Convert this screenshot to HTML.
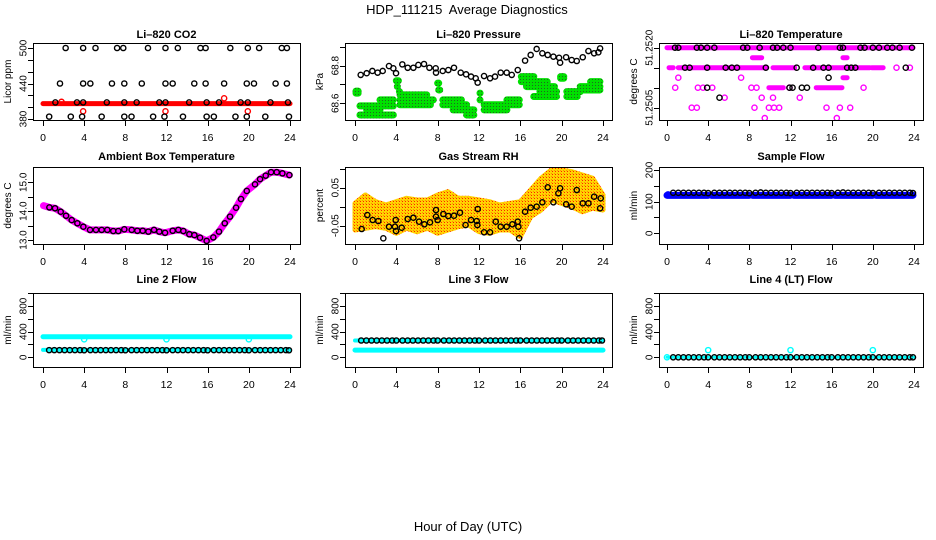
<!DOCTYPE html>
<html><head><meta charset="utf-8"><style>
html,body{margin:0;padding:0;background:#fff;}
svg{display:block;font-family:"Liberation Sans",sans-serif;}
</style></head><body>
<svg id="chart" width="936" height="540" viewBox="0 0 936 540" xmlns="http://www.w3.org/2000/svg">
<defs>
<pattern id="greenPat" width="3" height="3" patternUnits="userSpaceOnUse"><rect width="3" height="3" fill="#00e000"/><rect x="1" y="1" width="1" height="1" fill="#226622"/></pattern>
<pattern id="rhPat" width="3" height="3" patternUnits="userSpaceOnUse"><rect width="3" height="3" fill="#ffd400"/><rect width="1" height="1" fill="#ff2000"/><rect x="2" y="2" width="1" height="1" fill="#ff9000"/></pattern>
</defs>
<text x="467" y="14" text-anchor="middle" font-size="13" xml:space="preserve">HDP_111215  Average Diagnostics</text>
<text x="468" y="531" text-anchor="middle" font-size="13">Hour of Day (UTC)</text>
</svg>
<script>
// ---------- data ----------
const xTicks=[0,4,8,12,16,20,24];
// CO2
const co2Levels=[500,440,408,384];
const co2H500=[2.2,3.9,5.1,7.2,7.8,10.2,11.9,13.1,15.3,15.8,18.2,19.9,21.0,23.2,23.7];
const co2H440=[1.65,3.9,4.6,6.7,7.9,9.6,11.9,12.6,14.7,15.8,17.6,19.8,20.5,22.6,23.7];
const co2H408=[1.2,3.3,3.9,6.2,7.9,9.1,11.3,11.9,14.2,15.9,17.1,19.2,19.9,22.1,23.8];
const co2H384=[0.6,2.7,3.8,5.7,7.9,8.6,10.7,11.8,13.6,15.9,16.6,18.7,19.8,21.6,23.9];
const co2RedBand=[0,24,406];
const co2RedPtH=[3.9,11.9,19.9,17.6,1.8];
const co2RedPtV=[393,393,393,415,409];
const co2Ticks=[380,400,420,440,460,480,500];
const co2Labels=["380","440","500"];
// Pressure
const presH=[0.55,1.13,1.68,2.19,2.68,3.29,3.71,3.97,4.58,5.1,5.65,6.13,6.68,7.2,7.81,7.84,8.49,9.03,9.58,10.23,10.75,11.23,11.68,11.87,12.49,13.07,13.55,14.1,14.68,15.17,15.75,16.46,17.0,17.58,18.13,18.65,19.2,19.75,19.85,20.43,20.97,21.46,22.04,22.59,23.14,23.55,23.72];
const presV=[68.751,68.760,68.772,68.763,68.772,68.798,68.786,68.760,68.807,68.789,68.789,68.804,68.809,68.789,68.786,68.763,68.772,68.777,68.789,68.763,68.754,68.742,68.733,68.710,68.745,68.733,68.742,68.763,68.763,68.751,68.777,68.827,68.857,68.889,68.866,68.857,68.848,68.842,68.816,68.845,68.830,68.825,68.845,68.878,68.866,68.871,68.892];
const presGreen=[[0.1,0.3,68.654],[0.1,0.3,68.665],[0.48,3.71,68.538],[0.48,3.71,68.586],[2.42,3.71,68.618],[1.13,2.42,68.565],[4.0,4.2,68.72],[4.1,4.1,68.689],[4.36,6.94,68.645],[4.36,7.58,68.618],[4.36,7.3,68.592],[4.3,4.3,68.662],[8.0,8.1,68.707],[8.1,8.2,68.671],[8.5,10.3,68.618],[8.5,10.8,68.592],[9.5,11.5,68.565],[10.8,11.5,68.538],[12.1,12.1,68.654],[12.1,12.1,68.618],[12.5,15.9,68.592],[12.5,14.7,68.565],[14.7,15.9,68.618],[16.1,17.3,68.742],[16.1,18.6,68.715],[16.6,19.3,68.689],[17.9,19.5,68.662],[17.3,19.5,68.636],[19.9,20.2,68.742],[19.9,20.2,68.733],[20.5,21.8,68.662],[22,23.7,68.671],[21.8,23.7,68.689],[20.5,21.5,68.636],[22.8,23.7,68.715]];
const presTicks=[68.6,68.7,68.8,68.9];
const presLabels=["68.6","68.8"];
// Li-820 temperature
const tempMagSeg=[[0,23.9,51.2520],[0.2,0.6,51.2515],[1.1,9.7,51.2515],[10.3,12.4,51.2515],[13.4,17.9,51.2515],[18.3,19.7,51.2515],[19.9,21.0,51.2515],[8.3,9.2,51.25175],[17.1,17.5,51.25175],[17.1,17.5,51.25125],[9.9,11.3,51.2510],[14.5,17.0,51.2510]];
const tempMagH=[22.3,23.6,1.1,7.2,0.8,3.0,3.5,4.4,8.2,8.7,11.9,19.1,5.6,9.2,10.3,12.9,2.4,2.9,8.5,9.9,10.4,10.9,15.5,16.8,17.8,9.5,16.5];
const tempMagV=[51.2515,51.2515,51.25125,51.25125,51.2510,51.2510,51.2510,51.2510,51.2510,51.2510,51.2510,51.2510,51.25075,51.25075,51.25075,51.25075,51.2505,51.2505,51.2505,51.2505,51.2505,51.2505,51.2505,51.2505,51.2505,51.25024,51.25024];
const tempBlkH=[0.78,1.1,2.9,3.3,3.9,4.6,7.4,7.8,9.0,10.3,10.7,11.3,12.0,14.7,16.8,17.1,18.8,19.2,20.0,20.6,21.4,21.9,22.6,23.8,1.75,2.2,3.9,5.7,6.3,6.8,9.6,12.6,14.2,15.2,15.7,17.5,17.9,18.3,23.2,15.7,3.9,11.9,12.2,13.1,13.6,5.1];
const tempBlkV=[51.2520,51.2520,51.2520,51.2520,51.2520,51.2520,51.2520,51.2520,51.2520,51.2520,51.2520,51.2520,51.2520,51.2520,51.2520,51.2520,51.2520,51.2520,51.2520,51.2520,51.2520,51.2520,51.2520,51.2520,51.2515,51.2515,51.2515,51.2515,51.2515,51.2515,51.2515,51.2515,51.2515,51.2515,51.2515,51.2515,51.2515,51.2515,51.2515,51.25125,51.2510,51.2510,51.2510,51.2510,51.2510,51.25075];
const tempTicks=[51.2505,51.2510,51.2515,51.2520];
const tempLabels=["51.2505","51.2520"];
// Ambient box temperature
const ambH=[0.62,1.17,1.72,2.24,2.79,3.34,3.92,4.57,5.15,5.70,6.25,6.83,7.32,7.90,8.62,9.17,9.69,10.24,10.79,11.30,11.86,12.6,13.15,13.64,14.22,14.71,15.26,15.9,16.55,17.1,17.66,18.17,18.76,19.24,19.8,20.6,21.09,21.64,22.16,22.71,23.26,23.94];
const ambV=[14.13,14.10,13.98,13.84,13.69,13.58,13.46,13.35,13.35,13.35,13.35,13.31,13.31,13.37,13.35,13.32,13.32,13.29,13.35,13.29,13.25,13.32,13.35,13.31,13.20,13.17,13.08,12.97,13.09,13.29,13.58,13.81,14.12,14.42,14.70,14.93,15.11,15.23,15.35,15.35,15.31,15.25];
const ambMagStartH=[0.05];
const ambMagStartV=[14.19];
const ambTicks=[13,13.5,14,14.5,15];
const ambLabels=["13.0","14.0","15.0"];
// Gas stream RH
const rhH=[0.65,1.19,1.71,2.26,2.74,3.29,3.87,3.94,3.97,4.52,5.1,5.65,6.2,6.71,7.26,7.84,7.84,8.0,8.55,9.03,9.58,10.16,10.7,11.23,11.78,11.88,11.84,12.49,13.07,13.62,14.1,14.68,15.23,15.75,15.81,15.88,16.46,17.0,17.58,18.13,18.65,19.2,19.68,19.85,20.43,20.97,21.46,22.04,22.59,23.14,23.78,23.72];
const rhV=[-0.0587,-0.0219,-0.035,-0.0376,-0.0832,-0.0526,-0.0526,-0.035,-0.064,-0.0553,-0.0324,-0.029,-0.0395,-0.0463,-0.0411,-0.0087,-0.0263,-0.035,-0.0192,-0.0245,-0.0237,-0.0158,-0.0482,-0.035,-0.0376,-0.0061,-0.0482,-0.0674,-0.0674,-0.0395,-0.0526,-0.0526,-0.0463,-0.0395,-0.0526,-0.0832,-0.0132,-0.0026,0,0.0116,0.0511,0.0116,0.0353,0.0484,0.0063,0,0.0439,0.0089,0.0089,0.0263,0.0221,-0.0042];
const rhEnvH=[0,1,2,3,4,5,6,7,8,9,10,11,12,13,14,15,16,17,18,19,20,21,22,23,24];
const rhUpper=[0.0089,0.0308,0.0132,0.0045,0.0132,0.0221,0.0176,0.0176,0.0308,0.0395,0.0221,0.0221,0.0176,0.0132,0.0045,0.0089,0.0132,0.0439,0.0747,0.0966,0.0966,0.092,0.0834,0.0747,0.0308];
const rhLower=[-0.0613,-0.0568,-0.0526,-0.0568,-0.07,-0.0568,-0.0658,-0.0568,-0.07,-0.0613,-0.0526,-0.0482,-0.0658,-0.07,-0.0613,-0.0613,-0.079,-0.0263,-0.0087,0.0176,0.0089,0,-0.0132,-0.0042,-0.0087];
const rhTicks=[-0.05,0,0.05,0.10];
const rhLabels=["-0.05","0.05"];
// Flows
const flowHours=[0.6,1.1,1.6,2.1,2.6,3.1,3.6,4.0,4.6,5.1,5.6,6.1,6.6,7.1,7.6,8.0,8.6,9.1,9.6,10.1,10.6,11.1,11.6,12.0,12.6,13.1,13.6,14.1,14.6,15.1,15.6,16.0,16.6,17.1,17.6,18.1,18.6,19.1,19.6,20.0,20.6,21.1,21.6,22.1,22.6,23.1,23.6,23.9];
const sampleBlack=[128,128,128,128,128,128,128,127,128,128,128,128,128,128,128,127,128,129,128,128,128,128,128,127,128,128,128,128,128,128,128,127,128,129,128,128,128,128,128,127,128,128,128,128,128,128,128,127];
const sampleBlue=[[0,4,120],[4.3,8,120],[8.3,12,120],[12.3,16,120],[16.3,20,120],[20.3,23.9,120]];
const line2Black=[112,112,112,112,112,112,112,110,112,112,112,112,112,112,112,110,112,112,112,112,112,112,112,110,112,112,112,112,112,112,112,110,112,112,112,112,112,112,112,110,112,112,112,112,112,112,112,110];
const line2Cyan=[[0,24,320],[0,24,115]];
const line2CyanDipH=[4,12,20];
const line2CyanDipV=[280,280,280];
const line3Black=[262,262,262,262,262,262,262,262,262,262,262,262,262,262,262,262,262,262,262,262,262,262,262,262,262,262,262,262,262,262,262,262,262,262,262,262,262,262,262,262,262,262,262,262,262,262,262,262];
const line3Cyan=[[0,24,262],[0,24,112]];
const line4Black=[0,0,0,0,0,0,0,0,0,0,0,0,0,0,0,0,0,0,0,0,0,0,0,0,0,0,0,0,0,0,0,0,0,0,0,0,0,0,0,0,0,0,0,0,0,0,0,0];
const line4Cyan=[[0,24,0]];
const line4CyanPtH=[0,4,12,20];
const line4CyanPtV=[0,112,112,112];
const flowTicks=[0,200,400,600,800,1000];
const flowLabels=["0","400","800"];
const sampleTicks=[0,50,100,150,200];
const sampleLabels=["0","100","200"];

// ---------- drawing ----------
const NS="http://www.w3.org/2000/svg";
const svg=document.getElementById('chart');
function mk(tag,attrs,parent){const e=document.createElementNS(NS,tag);for(const k in attrs)e.setAttribute(k,attrs[k]);(parent||svg).appendChild(e);return e;}

function makePanel(name,title,ylab,col,row,ref,ticks,labels){
  const cols=[{L:33,R:300,x0:43,x1:290},{L:345,R:612,x0:355,x1:603},{L:659,R:923,x0:667,x1:914}];
  const rows=[{T:43,B:120,tY:38},{T:167,B:244,tY:160},{T:293,B:367,tY:283}];
  const c=cols[col],r=rows[row];
  const g=mk('g',{});
  
  
  const sx=h=>c.x0+(c.x1-c.x0)*h/24;
  const sy=v=>ref[1]+(v-ref[0])*(ref[3]-ref[1])/(ref[2]-ref[0]);
  const t=mk('text',{x:(c.L+c.R)/2,y:r.tY,'text-anchor':'middle','font-size':'11','font-weight':'bold'},g);
  t.textContent=title;
  
  
  const yl=mk('text',{transform:`translate(${c.L-22},${(r.T+r.B)/2}) rotate(-90)`,'text-anchor':'middle','font-size':'10'},g);
  yl.textContent=ylab;
  
  
  const xa=mk('g',{stroke:'#000','stroke-width':'1'},g);
  
  
  mk('line',{x1:sx(0),x2:sx(24),y1:r.B+0.5,y2:r.B+0.5},xa);
  xTicks.forEach(h=>{
    mk('line',{x1:Math.round(sx(h))+0.5,x2:Math.round(sx(h))+0.5,y1:r.B,y2:r.B+6},xa);
    const tl=mk('text',{x:sx(h),y:r.B+21,'text-anchor':'middle','font-size':'10.5',stroke:'none'},g);
    tl.textContent=String(h);
    
    
  });
  const ya=mk('g',{stroke:'#000','stroke-width':'1'},g);
  
  
  ticks.forEach(v=>{const y=Math.round(sy(v))+0.5;mk('line',{x1:c.L-5,x2:c.L,y1:y,y2:y},ya);});
  labels.forEach(s=>{
    const v=parseFloat(s);
    const tl=mk('text',{transform:`translate(${c.L-9},${sy(v)}) rotate(-90)`,'text-anchor':'middle','dominant-baseline':'central','font-size':'10',stroke:'none'},g);
    tl.textContent=s;
    
    
  });
  const cp='clip-'+name;
  const clip=mk('clipPath',{id:cp},g);mk('rect',{x:c.L,y:r.T,width:c.R-c.L,height:r.B-r.T},clip);
  const plot=mk('g',{'clip-path':`url(#${cp})`},g);
  
  
  const box=mk('rect',{x:c.L+0.5,y:r.T+0.5,width:c.R-c.L,height:r.B-r.T,fill:'none',stroke:'#000','stroke-width':'1'},g);
  
  
  return {sx,sy,plot,box,g};
}
function seg(P,h0,h1,v,color,w,nm){
  const l=mk('line',{x1:P.sx(h0),x2:P.sx(h1),y1:P.sy(v),y2:P.sy(v),stroke:color,'stroke-width':w,'stroke-linecap':'round'},P.plot);
  
  
}
function pt(P,h,v,color,nm,r,sw){
  const c=mk('circle',{cx:P.sx(h),cy:P.sy(v),r:r||2.6,fill:'none',stroke:color,'stroke-width':sw||1.4},P.plot);
  
  
}
function cross(P,h,v,color){
  const x=P.sx(h),y=P.sy(v);
  const p=mk('path',{d:`M${x-1.3},${y}H${x+1.3}M${x},${y-1.3}V${y+1.3}`,stroke:color,'stroke-width':'0.9'},P.plot);
  
  
}

{const P=makePanel('co2','Li\u2013820 CO2','Licor ppm',0,0,[500,48,380,119],co2Ticks,co2Labels);
 seg(P,co2RedBand[0],co2RedBand[1],co2RedBand[2],'#ff0000',5,'co2-red-band');
 co2RedPtH.forEach((h,i)=>pt(P,h,co2RedPtV[i],'#ff0000','co2-red-point'));
 [co2H500,co2H440,co2H408,co2H384].forEach((arr,k)=>arr.forEach(h=>pt(P,h,co2Levels[k],'#000','co2-point')));}
{const P=makePanel('pressure','Li\u2013820 Pressure','kPa',1,0,[68.8,65.7,68.6,103.3],presTicks,presLabels);
 presGreen.forEach(s=>seg(P,s[0],s[1],s[2],'url(#greenPat)',7,'pressure-green-cluster'));
 presH.forEach((h,i)=>pt(P,h,presV[i],'#000','pressure-point'));}
{const P=makePanel('li820-temp','Li\u2013820 Temperature','degrees C',2,0,[51.2520,47.7,51.2505,107.7],tempTicks,tempLabels);
 tempMagSeg.forEach(s=>seg(P,s[0],s[1],s[2],'#ff00ff',5,'temp-magenta-band'));
 tempMagH.forEach((h,i)=>pt(P,h,tempMagV[i],'#ff00ff','temp-magenta-point'));
 tempBlkH.forEach((h,i)=>pt(P,h,tempBlkV[i],'#000','temp-point'));}
{const P=makePanel('ambient','Ambient Box Temperature','degrees C',0,1,[15,182.3,13,240],ambTicks,ambLabels);
 const hs=ambMagStartH.concat(ambH),vs=ambMagStartV.concat(ambV);
 const d=hs.map((h,i)=>(i?'L':'M')+P.sx(h)+','+P.sy(vs[i])).join('');
 const pl=mk('path',{d,fill:'none',stroke:'#ff00ff','stroke-width':7,'stroke-linejoin':'round','stroke-linecap':'round'},P.plot);
 
 
 ambH.forEach((h,i)=>{pt(P,h,ambV[i],'#000','ambient-point');cross(P,h,ambV[i],'#ff00ff');});}
{const P=makePanel('rh','Gas Stream RH','percent',1,1,[0.05,187.7,-0.05,225.7],rhTicks,rhLabels);
 let d=rhEnvH.map((h,i)=>(i?'L':'M')+P.sx(h)+','+P.sy(rhUpper[i])).join('');
 for(let i=rhEnvH.length-1;i>=0;i--)d+='L'+P.sx(rhEnvH[i])+','+P.sy(rhLower[i]);
 const band=mk('path',{d:d+'Z',fill:'url(#rhPat)',stroke:'url(#rhPat)','stroke-width':5,'stroke-linejoin':'round'},P.plot);
 
 
 rhH.forEach((h,i)=>pt(P,h,rhV[i],'#000','rh-point'));}
{const P=makePanel('sample-flow','Sample Flow','ml/min',2,1,[200,170,0,233.3],sampleTicks,sampleLabels);
 sampleBlue.forEach(s=>seg(P,s[0],s[1],s[2],'#0000ff',7,'sample-blue-band'));
 pt(P,0.1,123,'#0000ff','sample-blue-point');
 flowHours.forEach((h,i)=>pt(P,h,sampleBlack[i],'#000','sample-point'));}
{const P=makePanel('line2','Line 2 Flow','ml/min',0,2,[800,306,0,357.3],flowTicks,flowLabels);
 line2Cyan.forEach(s=>seg(P,s[0],s[1],s[2],'#00ffff',s[2]>200?5:4,'line2-cyan-band'));
 line2CyanDipH.forEach((h,i)=>pt(P,h,line2CyanDipV[i],'#00ffff','line2-cyan-point'));
 flowHours.forEach((h,i)=>{pt(P,h,line2Black[i],'#000','line2-point');cross(P,h,line2Black[i],'#00ffff');});}
{const P=makePanel('line3','Line 3 Flow','ml/min',1,2,[800,306,0,357.3],flowTicks,flowLabels);
 line3Cyan.forEach(s=>seg(P,s[0],s[1],s[2],'#00ffff',s[2]>200?4:5,'line3-cyan-band'));
 flowHours.forEach((h,i)=>{pt(P,h,line3Black[i],'#000','line3-point');cross(P,h,line3Black[i],'#00ffff');});}
{const P=makePanel('line4','Line 4 (LT) Flow','ml/min',2,2,[800,306,0,357.3],flowTicks,flowLabels);
 line4Cyan.forEach(s=>seg(P,s[0],s[1],s[2],'#00ffff',3,'line4-cyan-band'));
 line4CyanPtH.forEach((h,i)=>pt(P,h,line4CyanPtV[i],'#00ffff','line4-cyan-point'));
 flowHours.forEach((h,i)=>{pt(P,h,line4Black[i],'#000','line4-point');cross(P,h,line4Black[i],'#00ffff');});}
</script>
</body></html>
